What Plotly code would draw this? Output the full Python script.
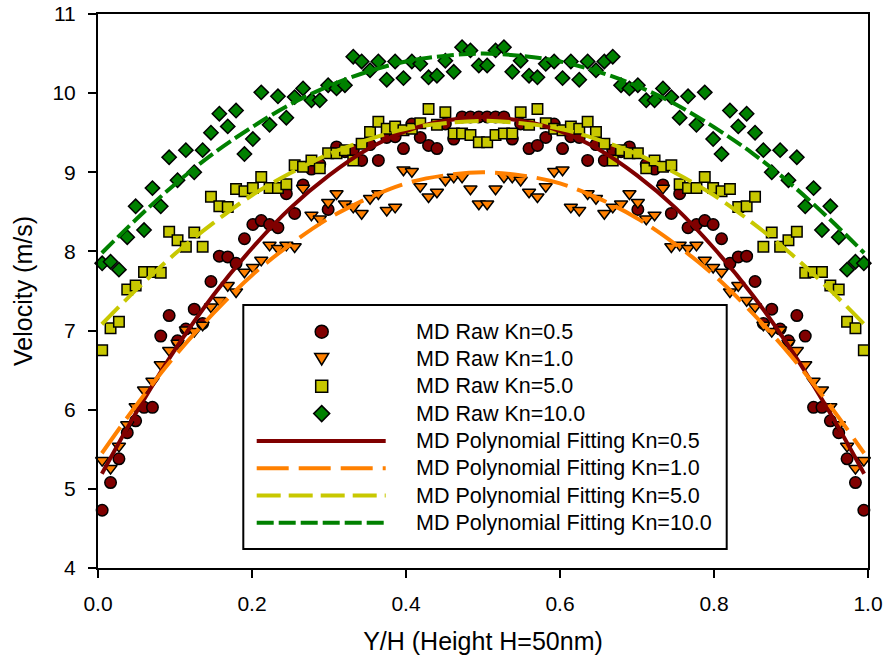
import plotly.graph_objects as go

# ---------------- data ----------------
x_bins = [0.0054, 0.0163, 0.0272, 0.0380, 0.0489, 0.0598, 0.0707, 0.0815, 0.0924, 0.1033,
          0.1141, 0.1250, 0.1359, 0.1467, 0.1576, 0.1685, 0.1793, 0.1902, 0.2011, 0.2120,
          0.2228, 0.2337, 0.2446, 0.2554, 0.2663, 0.2772, 0.2880, 0.2989, 0.3098, 0.3207,
          0.3315, 0.3424, 0.3533, 0.3641, 0.3750, 0.3859, 0.3967, 0.4076, 0.4185, 0.4293,
          0.4402, 0.4511, 0.4620, 0.4728, 0.4837, 0.4946,
          0.5054, 0.5163, 0.5272, 0.5380, 0.5489, 0.5598, 0.5707, 0.5815, 0.5924, 0.6033,
          0.6141, 0.6250, 0.6359, 0.6467, 0.6576, 0.6685, 0.6793, 0.6902, 0.7011, 0.7120,
          0.7228, 0.7337, 0.7446, 0.7554, 0.7663, 0.7772, 0.7880, 0.7989, 0.8098, 0.8207,
          0.8315, 0.8424, 0.8533, 0.8641, 0.8750, 0.8859, 0.8967, 0.9076, 0.9185, 0.9293,
          0.9402, 0.9511, 0.9620, 0.9728, 0.9837, 0.9946]

raw_kn05 = [4.73, 5.08, 5.38, 5.71, 5.86, 6.03, 6.03, 6.93, 7.19, 6.87,
            7.02, 7.27, 7.09, 7.62, 7.94, 7.93, 7.85, 8.16, 8.34, 8.39,
            8.34, 8.30, 8.73, 8.48, 8.84, 9.04, 9.10, 8.53, 9.32, 9.26,
            9.28, 9.15, 9.35, 9.15, 9.44, 9.45, 9.30, 9.61, 9.44, 9.34,
            9.30, 9.61, 9.42, 9.70, 9.70, 9.70,
            9.70, 9.70, 9.70, 9.42, 9.61, 9.30, 9.34, 9.44, 9.61, 9.30,
            9.45, 9.44, 9.15, 9.35, 9.15, 9.28, 9.26, 9.32, 8.53, 9.10,
            9.04, 8.84, 8.48, 8.73, 8.30, 8.34, 8.39, 8.34, 8.16, 7.85,
            7.93, 7.94, 7.62, 7.09, 7.27, 7.02, 6.87, 7.19, 6.93, 6.03,
            6.03, 5.86, 5.71, 5.38, 5.08, 4.73]

raw_kn10 = [5.36, 5.26, 5.54, 5.81, 6.04, 6.25, 6.36, 6.57, 6.75, 6.84,
            7.01, 6.99, 7.07, 7.30, 7.38, 7.57, 7.49, 7.74, 7.80, 7.89,
            8.08, 8.04, 8.08, 8.06, 8.80, 8.46, 8.41, 8.62, 8.73, 8.60,
            8.56, 8.48, 8.67, 8.73, 8.52, 8.56, 9.03, 9.01, 8.82, 8.69,
            8.75, 8.90, 8.94, 8.94, 8.79, 8.60,
            8.60, 8.79, 8.94, 8.94, 8.90, 8.75, 8.69, 8.82, 9.01, 9.03,
            8.56, 8.52, 8.73, 8.67, 8.48, 8.56, 8.60, 8.73, 8.62, 8.41,
            8.46, 8.80, 8.06, 8.08, 8.04, 8.08, 7.89, 7.80, 7.74, 7.49,
            7.57, 7.38, 7.30, 7.07, 6.99, 7.01, 6.84, 6.75, 6.57, 6.36,
            6.25, 6.04, 5.81, 5.54, 5.26, 5.36]

raw_kn50 = [6.75, 7.03, 7.11, 7.52, 7.57, 7.74, 7.74, 7.73, 8.25, 8.14,
            8.06, 8.24, 8.06, 8.69, 8.57, 8.56, 8.79, 8.76, 8.80, 8.94,
            8.80, 8.80, 8.85, 9.09, 9.07, 9.15, 9.05, 9.24, 9.24, 9.28,
            9.15, 9.36, 9.51, 9.64, 9.55, 9.58, 9.53, 9.55, 9.62, 9.80,
            9.60, 9.76, 9.49, 9.49, 9.47, 9.38,
            9.38, 9.47, 9.49, 9.49, 9.76, 9.60, 9.80, 9.62, 9.55, 9.53,
            9.58, 9.55, 9.64, 9.51, 9.36, 9.15, 9.28, 9.24, 9.24, 9.05,
            9.15, 9.07, 9.09, 8.85, 8.80, 8.80, 8.94, 8.80, 8.76, 8.79,
            8.56, 8.57, 8.69, 8.06, 8.24, 8.06, 8.14, 8.25, 7.73, 7.74,
            7.74, 7.57, 7.52, 7.11, 7.03, 6.75]

raw_kn100 = [7.85, 7.87, 7.77, 8.18, 8.57, 8.27, 8.80, 8.57, 9.19, 8.90,
             9.28, 9.00, 9.28, 9.50, 9.74, 9.58, 9.78, 9.23, 9.42, 10.01,
             9.60, 9.96, 9.69, 9.95, 10.06, 9.91, 9.91, 10.10, 10.06, 10.10,
             10.46, 10.40, 10.29, 10.40, 10.17, 10.40, 10.19, 10.40, 10.37, 10.20,
             10.22, 10.41, 10.27, 10.58, 10.54, 10.35,
             10.35, 10.54, 10.58, 10.27, 10.41, 10.22, 10.20, 10.37, 10.40, 10.19,
             10.40, 10.17, 10.40, 10.29, 10.40, 10.46, 10.10, 10.06, 10.10, 9.91,
             9.91, 10.06, 9.95, 9.69, 9.96, 9.60, 10.01, 9.42, 9.23, 9.78,
             9.58, 9.74, 9.50, 9.28, 9.00, 9.28, 8.90, 9.19, 8.57, 8.80,
             8.27, 8.57, 8.18, 7.77, 7.87, 7.85]

x_fit = [0.005, 0.05, 0.10, 0.15, 0.20, 0.25, 0.30, 0.35, 0.40, 0.45, 0.50,
         0.55, 0.60, 0.65, 0.70, 0.75, 0.80, 0.85, 0.90, 0.95, 0.995]
fit_kn05 = [5.19, 5.97, 6.76, 7.45, 8.04, 8.55, 8.96, 9.29, 9.52, 9.65, 9.70,
            9.65, 9.52, 9.29, 8.96, 8.55, 8.04, 7.45, 6.76, 5.97, 5.19]
fit_kn10 = [5.45, 6.06, 6.68, 7.22, 7.70, 8.09, 8.42, 8.67, 8.86, 8.96, 9.00,
            8.96, 8.86, 8.67, 8.42, 8.09, 7.70, 7.22, 6.68, 6.06, 5.45]
fit_kn50 = [7.08, 7.52, 7.97, 8.36, 8.71, 8.99, 9.23, 9.41, 9.55, 9.62, 9.65,
            9.62, 9.55, 9.41, 9.23, 8.99, 8.71, 8.36, 7.97, 7.52, 7.08]
fit_kn100 = [7.98, 8.41, 8.85, 9.24, 9.57, 9.86, 10.09, 10.27, 10.40, 10.47, 10.50,
             10.47, 10.40, 10.27, 10.09, 9.86, 9.57, 9.24, 8.85, 8.41, 7.98]

raw_names = ["MD Raw Kn=0.5", "MD Raw Kn=1.0", "MD Raw Kn=5.0", "MD Raw Kn=10.0"]
fit_names = ["MD Polynomial Fitting Kn=0.5", "MD Polynomial Fitting Kn=1.0",
             "MD Polynomial Fitting Kn=5.0", "MD Polynomial Fitting Kn=10.0"]
x_ticks = [0.0, 0.2, 0.4, 0.6, 0.8, 1.0]
y_ticks = [4, 5, 6, 7, 8, 9, 10, 11]

# ---------------- styles ----------------
COLORS = ["#800000", "#FF8000", "#C8C800", "#008000"]
SYMBOLS = ["circle", "triangle-down", "square", "diamond"]
SIZES = [11.5, 11.5, 10.5, 11]
DASHES = ["solid", "32px,10px", "24px,8px", "17px,5px"]
FONT = "Arial, Liberation Sans, sans-serif"

W, H = 886, 663
PL, PR, PT, PB = 98, 868, 14, 568

fig = go.Figure()
raws = [raw_kn05, raw_kn10, raw_kn50, raw_kn100]
fits = [fit_kn05, fit_kn10, fit_kn50, fit_kn100]
for i in range(4):
    fig.add_trace(go.Scatter(
        x=x_bins, y=raws[i], mode="markers", name=raw_names[i], showlegend=False,
        marker=dict(symbol=SYMBOLS[i], size=SIZES[i], color=COLORS[i],
                    line=dict(color="black", width=1.5)),
        cliponaxis=False))
for i in range(4):
    fig.add_trace(go.Scatter(
        x=x_fit, y=fits[i], mode="lines", name=fit_names[i], showlegend=False,
        line=dict(color=COLORS[i], width=4, dash=DASHES[i], shape="spline")))


def px_x(px):
    return (px - PL) / (PR - PL)


def px_y(py):
    return (PB - py) / (PB - PT)


shapes = []
annotations = []
# legend frame
shapes.append(dict(type="rect", xref="paper", yref="paper", layer="above",
                   x0=px_x(243.3), x1=px_x(726.7), y0=px_y(549), y1=px_y(305),
                   fillcolor="white", line=dict(color="black", width=2)))
row0, row_step = 331.7, 27.3
mx = 321.7
for i in range(4):
    cy = row0 + i * row_step
    c = COLORS[i]
    ln = dict(color="black", width=1.5)
    if i == 0:
        shapes.append(dict(type="circle", xref="paper", yref="paper", layer="above",
                           x0=px_x(mx - 6.5), x1=px_x(mx + 6.5), y0=px_y(cy + 6.5), y1=px_y(cy - 6.5),
                           fillcolor=c, line=ln))
    elif i == 1:
        pts = [(mx - 7, cy - 5.5), (mx + 7, cy - 5.5), (mx, cy + 6)]
        path = "M {} {} L {} {} L {} {} Z".format(px_x(pts[0][0]), px_y(pts[0][1]),
                                                  px_x(pts[1][0]), px_y(pts[1][1]),
                                                  px_x(pts[2][0]), px_y(pts[2][1]))
        shapes.append(dict(type="path", xref="paper", yref="paper", layer="above",
                           path=path, fillcolor=c, line=ln))
    elif i == 2:
        shapes.append(dict(type="rect", xref="paper", yref="paper", layer="above",
                           x0=px_x(mx - 6), x1=px_x(mx + 6), y0=px_y(cy + 6), y1=px_y(cy - 6),
                           fillcolor=c, line=ln))
    else:
        pts = [(mx, cy - 8), (mx + 8, cy), (mx, cy + 8), (mx - 8, cy)]
        path = "M {} {} L {} {} L {} {} L {} {} Z".format(
            px_x(pts[0][0]), px_y(pts[0][1]), px_x(pts[1][0]), px_y(pts[1][1]),
            px_x(pts[2][0]), px_y(pts[2][1]), px_x(pts[3][0]), px_y(pts[3][1]))
        shapes.append(dict(type="path", xref="paper", yref="paper", layer="above",
                           path=path, fillcolor=c, line=ln))
    annotations.append(dict(xref="paper", yref="paper", x=px_x(414), y=px_y(cy),
                            xanchor="left", yanchor="middle", showarrow=False,
                            text=raw_names[i], font=dict(family=FONT, size=21.5, color="black")))
for i in range(4):
    cy = row0 + (i + 4) * row_step
    shapes.append(dict(type="line", xref="paper", yref="paper", layer="above",
                       x0=px_x(256.7), x1=px_x(385.7), y0=px_y(cy), y1=px_y(cy),
                       line=dict(color=COLORS[i], width=4, dash=DASHES[i])))
    annotations.append(dict(xref="paper", yref="paper", x=px_x(414), y=px_y(cy),
                            xanchor="left", yanchor="middle", showarrow=False,
                            text=fit_names[i], font=dict(family=FONT, size=21.5, color="black")))

axis_common = dict(showgrid=False, zeroline=False, showline=True, linecolor="black",
                   linewidth=2, mirror=True, ticks="outside", ticklen=8, tickwidth=2,
                   tickcolor="black", automargin=False,
                   tickfont=dict(family=FONT, size=21, color="black"))

fig.update_layout(
    width=W, height=H,
    margin=dict(l=PL, r=W - PR, t=PT, b=H - PB, autoexpand=False),
    paper_bgcolor="white", plot_bgcolor="white",
    showlegend=False,
    xaxis=dict(range=[0, 1], tickvals=x_ticks, tickformat=".1f",
               title=dict(text="Y/H (Height H=50nm)", standoff=18,
                          font=dict(family=FONT, size=25, color="black")),
               ticklabelstandoff=8, **axis_common),
    yaxis=dict(range=[4, 11], tickvals=y_ticks,
               title=dict(text="Velocity (m/s)", standoff=13,
                          font=dict(family=FONT, size=25, color="black")),
               ticklabelstandoff=8, **axis_common),
    shapes=shapes, annotations=annotations,
)

fig.write_html("out.html")
